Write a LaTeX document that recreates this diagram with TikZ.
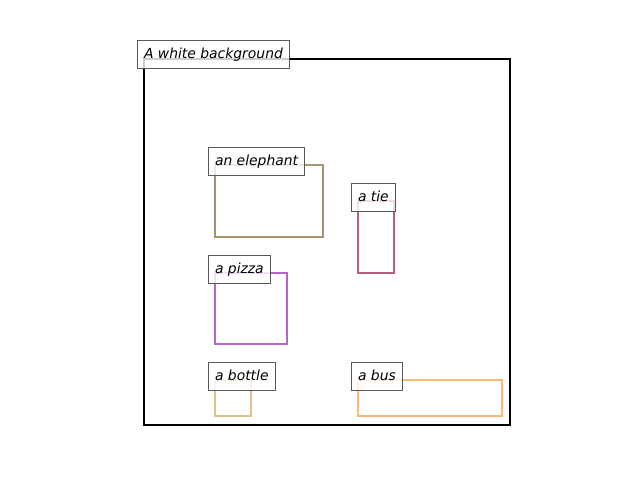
\documentclass[tikz,border=0pt]{standalone}
\usepackage{fontspec}
\setmainfont{DejaVu Sans}
\begin{document}
\begin{tikzpicture}[x=1pt,y=-1pt,
  objbox/.style={line width=2.4pt},
  tag/.style={anchor=north west, draw=black!72, line width=1pt,
    fill=white, fill opacity=0.8, text opacity=1, draw opacity=0.9,
    inner xsep=6.5pt, inner ysep=0pt, minimum height=28pt,
    text height=10pt, text depth=2.5pt,
    font=\fontsize{13.9}{16}\selectfont\itshape}]
\useasboundingbox (0,0) rectangle (640,480);
\definecolor{elephantc}{RGB}{166,148,108}
\definecolor{tiec}{RGB}{176,98,126}
\definecolor{pizzac}{RGB}{181,101,200}
\definecolor{bottlec}{RGB}{226,194,140}
\definecolor{busc}{RGB}{249,186,120}

% outer frame
\draw[line width=2.4pt] (144,59) rectangle (510,425);

% object boxes
\draw[objbox, elephantc] (215,165) rectangle (323,237);
\draw[objbox, tiec]      (358,201) rectangle (394,273);
\draw[objbox, pizzac]    (215,273) rectangle (287,344);
\draw[objbox, bottlec]   (215,380) rectangle (251,416);
\draw[objbox, busc]      (358,380) rectangle (502,416);

% labels
\node[tag] (bg)  at (137,40)  {A white background};
\node[tag] (el)  at (208,147) {an elephant};
\node[tag] (ti)  at (351,183) {a tie};
\node[tag] (pz)  at (208,255) {a pizza};
\node[tag] (bt)  at (208,362) {a bottle};
\node[tag] (bs)  at (351,362) {a bus};
\end{tikzpicture}
\end{document}
